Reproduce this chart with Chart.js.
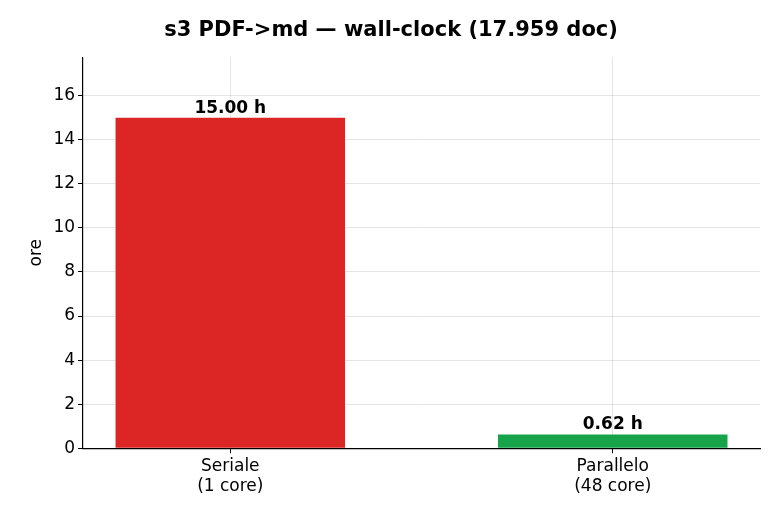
<!DOCTYPE html>
<html><head><meta charset="utf-8">
<script src="https://cdn.jsdelivr.net/npm/chart.js@4/dist/chart.umd.min.js"></script>
<style>body{margin:0;background:#fff}#w{width:780px;height:520px}</style>
</head><body><div id="w"><canvas id="c"></canvas></div>
<script>
const categories = [["Seriale","(1 core)"],["Parallelo","(48 core)"]];
const hours = [15.00, 0.62];
const barColors = ["#dc2626","#16a34a"];
const F = "'DejaVu Sans', sans-serif";
const labelPlugin = {
  id:'lbl',
  afterDatasetsDraw(chart){
    const ctx=chart.ctx, meta=chart.getDatasetMeta(0);
    ctx.save();ctx.font="bold 17px "+F;ctx.fillStyle="#000";ctx.textAlign="center";ctx.textBaseline="bottom";
    meta.data.forEach((b,i)=>ctx.fillText(hours[i].toFixed(2)+" h",b.x,b.y-1));
    ctx.restore();
  }
};
new Chart(document.getElementById('c'),{
  type:'bar',
  data:{datasets:[{data:hours.map((v,i)=>({x:i,y:v})),backgroundColor:barColors,barPercentage:0.6,categoryPercentage:1}]},
  options:{
    responsive:true,maintainAspectRatio:false,animation:false,
    layout:{padding:{left:22,right:20,top:14,bottom:20}},
    plugins:{legend:{display:false},tooltip:{enabled:false},
      title:{display:true,text:"s3 PDF->md — wall-clock (17.959 doc)",font:{family:F,size:21,weight:'bold'},color:'#000',padding:{top:4,bottom:14}}},
    scales:{
      x:{type:'linear',min:-0.385,max:1.385,offset:false,
        afterBuildTicks(s){s.ticks=[{value:0},{value:1}];},
        ticks:{callback:(v)=>categories[v],font:{family:F,size:17},color:'#000'},
        grid:{offset:false,color:'rgba(0,0,0,0.1)',drawTicks:true,tickColor:'#000',tickLength:5},
        border:{color:'#000',width:1.2}},
      y:{min:0,max:17.75,
        afterBuildTicks(s){s.ticks=[0,2,4,6,8,10,12,14,16].map(v=>({value:v}));},
        title:{display:true,text:"ore",font:{family:F,size:17},color:'#000'},
        ticks:{font:{family:F,size:17},color:'#000'},
        grid:{color:'rgba(0,0,0,0.1)',tickColor:'#000',tickLength:5},
        border:{color:'#000',width:1.2}}
    }
  },
  plugins:[labelPlugin]
});
</script></body></html>
